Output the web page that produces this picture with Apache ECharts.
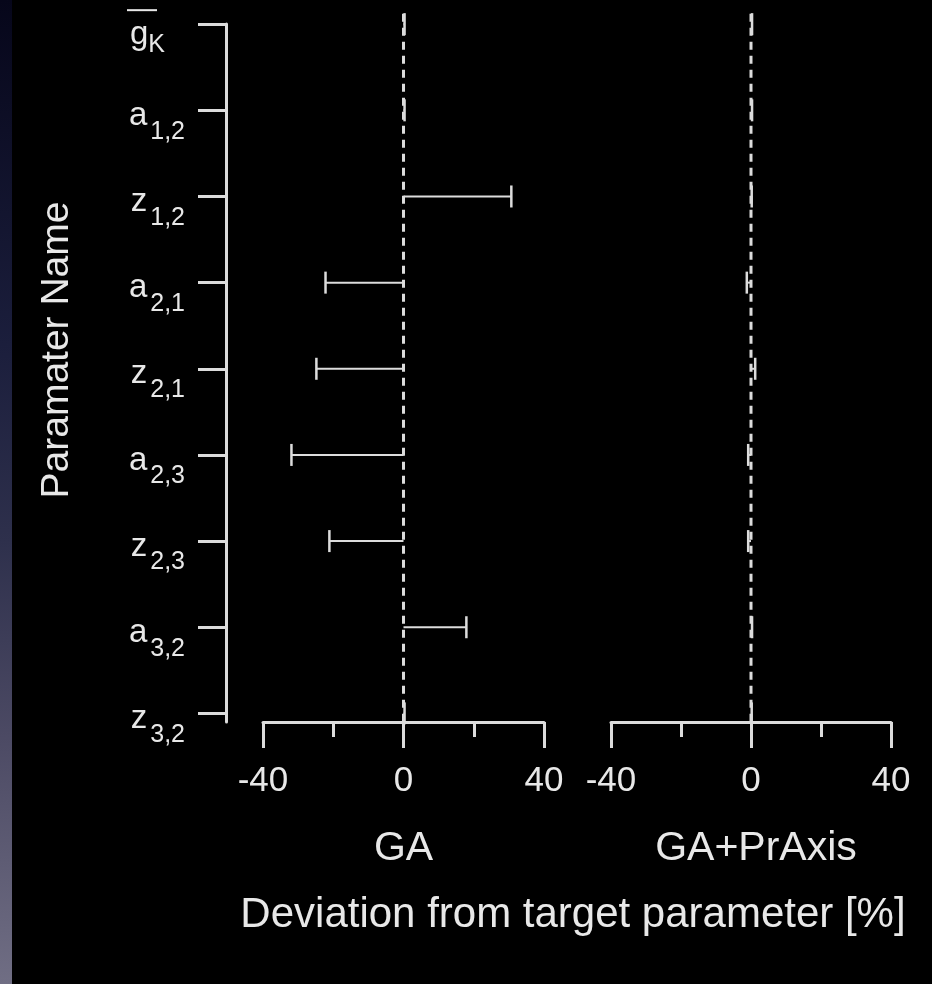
<!DOCTYPE html>
<html>
<head>
<meta charset="utf-8">
<script src="https://cdn.jsdelivr.net/npm/echarts@6/dist/echarts.min.js"></script>
<style>html,body{margin:0;padding:0;background:#000;} #c{width:932px;height:984px;}</style>
</head>
<body>
<div id="c"></div>
<script>
// ---- data ----
const paramMain = ['g', 'a', 'z', 'a', 'z', 'a', 'z', 'a', 'z'];
const paramSub = ['K', '1,2', '1,2', '2,1', '2,1', '2,3', '2,3', '3,2', '3,2'];
const paramOverline = [true, false, false, false, false, false, false, false, false];
const gaDeviation = [0.3, 0.3, 30.7, -22.2, -24.8, -31.9, -21.1, 17.9, 0.3];
const praxisDeviation = [0.3, 0.3, 0.2, -1.2, 1.2, -0.8, -0.8, 0.3, 0.2];
const xTickLabels = [-40, 0, 40];
const panelNames = ['GA', 'GA+PrAxis'];
const xAxisTitle = 'Deviation from target parameter [%]';
const yAxisTitle = 'Paramater Name';
const zeroLine = [[0, -0.12], [0, 8.1]];

// ---- style ----
const LINE = '#dcdcdc';
const TEXT = '#e8e8e8';
const FONT = '"Liberation Sans", Arial, Helvetica, sans-serif';
const yIdx = paramMain.map((_, i) => i);

function yLabel(v) {
  if (paramOverline[v]) {
    return '{o| }{sp| }\n{g|' + paramMain[v] + '}{k|' + paramSub[v] + '}';
  }
  return '{m|' + paramMain[v] + '}{s|' + paramSub[v] + '}';
}

function errRender(params, api) {
  const v = api.value(0), i = api.value(1);
  const p0 = api.coord([0, i]);
  const p1 = api.coord([v, i]);
  return {
    type: 'group',
    children: [
      {type: 'line', shape: {x1: p0[0], y1: p0[1], x2: p1[0], y2: p1[1]}, style: {stroke: LINE, lineWidth: 2}},
      {type: 'line', shape: {x1: p1[0], y1: p1[1] - 11, x2: p1[0], y2: p1[1] + 11}, style: {stroke: LINE, lineWidth: 2.5}}
    ]
  };
}

const chart = echarts.init(document.getElementById('c'), null, {renderer: 'canvas'});
const option = {
  backgroundColor: '#000',
  animation: false,
  grid: [
    {left: 263, right: 388, top: 24, bottom: 262, containLabel: false, outerBoundsMode: 'none'},
    {left: 611, right: 41, top: 24, bottom: 262, containLabel: false, outerBoundsMode: 'none'}
  ],
  xAxis: [0, 1].map(k => ({
    gridIndex: k, type: 'value', min: -40, max: 40, interval: 40, position: 'bottom',
    name: panelNames[k], nameLocation: 'middle', nameGap: 106,
    nameTextStyle: {color: TEXT, fontSize: 41, fontFamily: FONT, padding: k === 1 ? [0, 0, 0, 10] : [0, 0, 0, 0]},
    axisLine: {show: true, onZero: false, lineStyle: {color: LINE, width: 3}},
    axisTick: {show: true, length: 26, lineStyle: {color: LINE, width: 3}},
    minorTick: {show: true, splitNumber: 2, length: 15, lineStyle: {color: LINE, width: 3}},
    axisLabel: {color: TEXT, fontSize: 35, fontFamily: FONT, margin: 42,
      formatter: v => xTickLabels.includes(v) ? String(v) : ''},
    splitLine: {show: false}, minorSplitLine: {show: false}
  })),
  yAxis: [
    {
      gridIndex: 0, type: 'value', min: -0.002, max: 8.1, inverse: true, offset: 37,
      axisLine: {show: true, onZero: false, lineStyle: {color: LINE, width: 3}},
      axisTick: {show: true, length: 28, customValues: yIdx, lineStyle: {color: LINE, width: 3}},
      axisLabel: {
        customValues: yIdx, margin: 41,
        formatter: yLabel,
        rich: {
          m: {fontSize: 33, padding: [23, 3, 0, 0], verticalAlign: 'top', color: TEXT, fontFamily: FONT},
          s: {fontSize: 25, padding: [43, 0, 0, 0], verticalAlign: 'bottom', color: TEXT, fontFamily: FONT},
          o: {width: 30, height: 2, backgroundColor: TEXT, verticalAlign: 'bottom', fontSize: 2, fontFamily: FONT},
          sp: {width: 28, height: 21, fontSize: 2, fontFamily: FONT},
          g: {fontSize: 33, padding: [7.5, 0, 0, 0], verticalAlign: 'top', color: TEXT, fontFamily: FONT},
          k: {fontSize: 25, padding: [21.5, 20, 0.5, 0], verticalAlign: 'bottom', color: TEXT, fontFamily: FONT}
        }
      },
      splitLine: {show: false}
    },
    {gridIndex: 1, type: 'value', min: -0.002, max: 8.1, inverse: true, show: false}
  ],
  series: [
    {type: 'line', xAxisIndex: 0, yAxisIndex: 0, data: zeroLine, symbol: 'none', clip: false,
      lineStyle: {color: LINE, width: 3, type: [8, 6]}, z: 1},
    {type: 'line', xAxisIndex: 1, yAxisIndex: 1, data: zeroLine, symbol: 'none', clip: false,
      lineStyle: {color: LINE, width: 3, type: [8, 6]}, z: 1},
    {type: 'custom', xAxisIndex: 0, yAxisIndex: 0, renderItem: errRender, encode: {x: 0, y: 1},
      data: gaDeviation.map((v, i) => [v, i]), z: 3},
    {type: 'custom', xAxisIndex: 1, yAxisIndex: 1, renderItem: errRender, encode: {x: 0, y: 1},
      data: praxisDeviation.map((v, i) => [v, i]), z: 3}
  ],
  graphic: [
    {type: 'rect', left: 0, top: 0, shape: {width: 12, height: 984}, silent: true,
      style: {fill: new echarts.graphic.LinearGradient(0, 0, 0, 1, [
        {offset: 0, color: '#06061a'},
        {offset: 0.35, color: '#1b1e3c'},
        {offset: 0.55, color: '#2e304c'},
        {offset: 0.75, color: '#4c4a64'},
        {offset: 1, color: '#706e84'}
      ])}},
    {type: 'text', x: 573, y: 915, silent: true,
      style: {text: xAxisTitle, fill: TEXT, font: '42px ' + FONT, textAlign: 'center', textVerticalAlign: 'middle'}},
    {type: 'text', x: 57, y: 350, rotation: Math.PI / 2, silent: true,
      style: {text: yAxisTitle, fill: TEXT, font: '39px ' + FONT, textAlign: 'center', textVerticalAlign: 'middle'}}
  ]
};
chart.setOption(option);
</script>
</body>
</html>
